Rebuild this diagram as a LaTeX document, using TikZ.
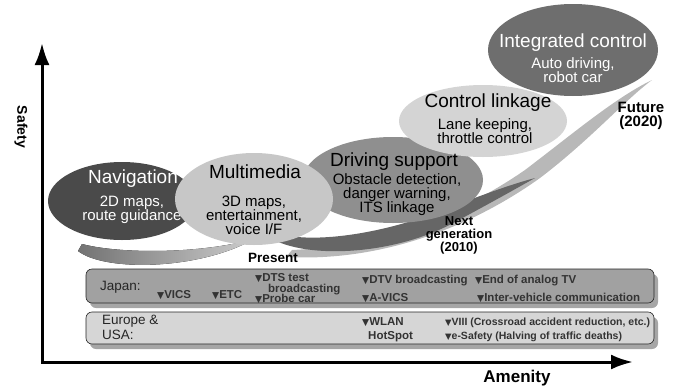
\documentclass[tikz,border=0pt]{standalone}
\usepackage{fontspec}
\usepackage{graphicx}
\setmainfont{Liberation Sans}
\newfontfamily\symfont{DejaVu Sans}
\usetikzlibrary{arrows.meta,shadows}
\newcommand{\dnmark}{{\symfont\scalebox{0.8}{▼}}}

\begin{document}
\begin{tikzpicture}[x=1pt,y=-1pt,
    axis/.style={line width=3pt,{Latex[length=22pt,width=15pt]}-{Latex[length=22pt,width=15pt]}},
    title/.style={font=\fontsize{19}{21}\selectfont,anchor=base,inner sep=0pt},
    sub/.style={font=\fontsize{15}{14}\selectfont,align=center,anchor=base,inner sep=0pt},
    tag/.style={font=\fontsize{14}{12}\selectfont\bfseries,align=center,anchor=base,inner sep=0pt},
    region/.style={font=\fontsize{13.5}{15}\selectfont,align=left,anchor=base west,inner sep=0pt,text=black!85},
    item/.style={font=\fontsize{11.5}{12}\selectfont\bfseries,anchor=base west,inner sep=0pt,text=black!80},
    eitem/.style={font=\fontsize{10.5}{12}\selectfont\bfseries,anchor=base west,inner sep=0pt,text=black!80},
    areabox/.style={rounded corners=6pt,draw=black!85,line width=0.6pt,
        drop shadow={shadow xshift=4pt,shadow yshift=-5pt,fill=black!35,opacity=1}}]
    \useasboundingbox (0,0) rectangle (678,386);

    % axes
    \coordinate (ytip) at (42,43);
    \coordinate (origin) at (42,362);
    \coordinate (xtip) at (633,362);
    \draw[axis] (ytip) -- (origin) -- (xtip);
    \node[font=\fontsize{14}{16}\selectfont\bfseries,rotate=-90] (safety) at (21,127) {Safety};
    \node[font=\fontsize{17}{19}\selectfont\bfseries,anchor=base] (amenity) at (517,382) {Amenity};

    % swooshes
    \fill[black!28] (286,257) .. controls (380,262) and (470,228) .. (540,178)
        .. controls (590,140) and (625,100) .. (652,80)
        .. controls (615,98) and (575,132) .. (525,170)
        .. controls (460,215) and (380,246) .. (292,250) -- cycle;
    \fill[black!60] (262,232) .. controls (292,260) and (390,258) .. (455,222)
        .. controls (485,206) and (510,192) .. (535,178)
        .. controls (505,186) and (475,198) .. (448,208)
        .. controls (380,236) and (300,246) .. (270,230) -- cycle;
    \fill[left color=black!55,right color=black!20] (78,251) .. controls (105,272) and (200,270) .. (254,239)
        .. controls (200,254) and (120,254) .. (82,244) -- cycle;

    % ellipses
    \fill[black!71] (122,201) ellipse [x radius=74,y radius=39];
    \fill[black!44] (393,180) ellipse [x radius=90,y radius=43];
    \fill[black!17] (483,121) ellipse [x radius=84,y radius=36];
    \fill[black!57] (573,50) ellipse [x radius=85,y radius=46];
    \node[title,text=white] (navT) at (133,183) {Navigation};
    \node[sub,text=white] (navS) at (132,220) {2D maps,\\route guidance};
    \fill[black!22] (254,199) ellipse [x radius=79,y radius=46];
    \node[title] (mmT) at (255,178) {Multimedia};
    \node[sub] (mmS) at (254,234) {3D maps,\\entertainment,\\voice I/F};
    \node[title] (dsT) at (394,166) {Driving support};
    \node[sub] (dsS) at (397,212) {Obstacle detection,\\danger warning,\\ITS linkage};
    \node[title] (clT) at (488,107) {Control linkage};
    \node[sub] (clS) at (485,143) {Lane keeping,\\throttle control};
    \node[title,text=white] (icT) at (573,47) {Integrated control};
    \node[sub,text=white] (icS) at (573,82) {Auto driving,\\robot car};

    % time marks
    \node[tag,font=\fontsize{13.5}{12}\selectfont\bfseries] (present) at (273,262) {Present};
    \node[tag,font=\fontsize{13}{13}\selectfont\bfseries] (nextgen) at (459,251) {Next\\generation\\(2010)};
    \node[tag,font=\fontsize{15}{14}\selectfont\bfseries] (future) at (641,126) {Future\\(2020)};

    % regions
    \draw[areabox,fill=black!37] (86,269) rectangle (654,303);
    \draw[areabox,fill=black!16] (86,312) rectangle (654,344);
    \node[region] (japan) at (100,290) {Japan:};
    \node[item] (vics) at (157,298) {\dnmark VICS};
    \node[item] (etc) at (212,298) {\dnmark ETC};
    \node[item] (dts) at (255,281) {\dnmark DTS test};
    \node[item] (bcast) at (268,292) {broadcasting};
    \node[item] (probe) at (255,302.5) {\dnmark Probe car};
    \node[item] (dtv) at (362,283) {\dnmark DTV broadcasting};
    \node[item] (avics) at (362,301) {\dnmark A-VICS};
    \node[item] (analog) at (475,283) {\dnmark End of analog TV};
    \node[item] (ivc) at (477,301) {\dnmark Inter-vehicle communication};
    \node[region] (europe) at (102,339) {Europe \&\\USA:};
    \node[eitem,font=\fontsize{11.5}{12}\selectfont\bfseries] (wlan) at (362,325) {\dnmark WLAN};
    \node[eitem,font=\fontsize{11.5}{12}\selectfont\bfseries] (hotspot) at (368,339) {HotSpot};
    \node[eitem] (viii) at (445,325) {\dnmark VIII (Crossroad accident reduction, etc.)};
    \node[eitem] (esafety) at (445,339) {\dnmark e-Safety (Halving of traffic deaths)};
\end{tikzpicture}
\end{document}
